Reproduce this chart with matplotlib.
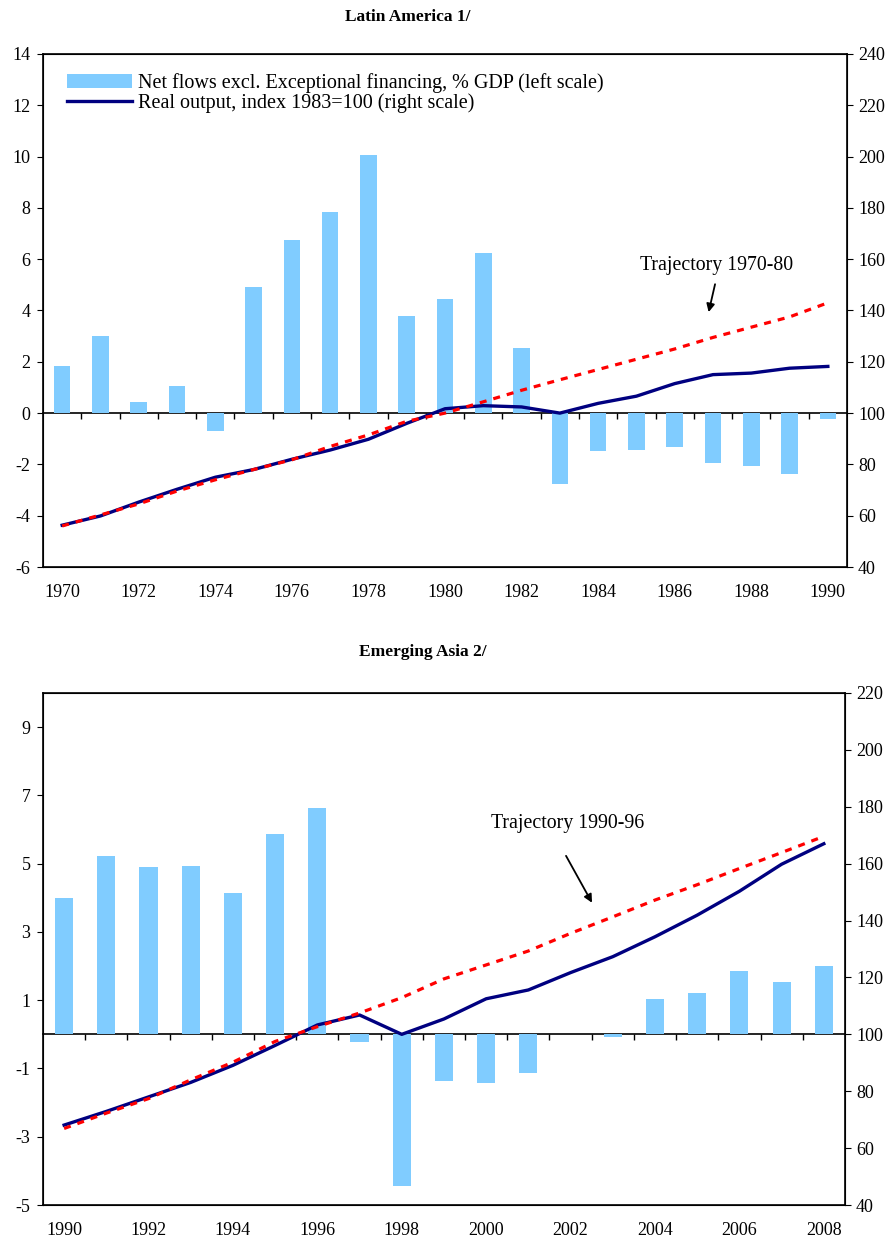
import numpy as np
import matplotlib.pyplot as plt

plt.rcParams['font.family'] = ['Liberation Serif', 'DejaVu Serif']
plt.rcParams['axes.unicode_minus'] = False

# Latin America 1/
la_years = list(range(1970, 1991))
la_flows = [1.85, 3.0, 0.43, 1.05, -0.7, 4.9, 6.75, 7.85, 10.05, 3.8, 4.45,
            6.25, 2.55, -2.78, -1.47, -1.43, -1.33, -1.94, -2.05, -2.36, -0.22]
la_output = [56.3, 59.9, 65.3, 70.3, 75.0, 78.0, 82.0, 85.6, 89.8, 96.0, 101.7,
             102.9, 102.4, 100.0, 103.8, 106.6, 111.5, 115.0, 115.6, 117.5, 118.2]
la_traj = [56.0, 60.3, 64.6, 69.6, 74.0, 78.0, 81.8, 87.0, 91.5, 96.8, 100.0,
           104.4, 108.9, 113.0, 117.0, 121.0, 125.0, 129.5, 133.5, 137.5, 143.0]

# Emerging Asia 2/
asia_years = list(range(1990, 2009))
asia_flows = [4.0, 5.22, 4.9, 4.93, 4.14, 5.86, 6.62, -0.21, -4.45, -1.36,
              -1.44, -1.13, 0.0, -0.09, 1.04, 1.21, 1.86, 1.54, 2.0]
asia_output = [68.1, 72.9, 78.0, 83.1, 89.1, 96.1, 103.3, 106.8, 100.0, 105.4,
               112.5, 115.6, 121.7, 127.3, 134.3, 141.9, 150.3, 159.8, 167.0]
asia_traj = [66.9, 72.3, 77.4, 84.0, 90.2, 97.5, 102.7, 107.5, 112.9, 119.5,
             124.4, 129.3, 135.5, 141.3, 147.2, 152.6, 158.3, 163.9, 169.6]

BAR = '#80CCFF'
NAVY = '#000080'
FS = 13


def panel(rect, years, flows, output, traj, ylim, yticks, rlim, rticks,
          note, note_xy, tail, head, legend=False):
    ax = fig.add_axes(rect)
    x = np.arange(len(years))
    ax.bar(x, flows, width=0.43, color=BAR, label='Net flows excl. Exceptional financing, % GDP (left scale)')
    ax.set_xlim(-0.5, len(years) - 0.5)
    ax.set_ylim(*ylim)
    ax.set_yticks(yticks)
    ax.set_xticks(x[::2])
    ax.set_xticklabels([str(y) for y in years[::2]])
    ax.tick_params(axis='x', length=0, pad=12, labelsize=FS)
    ax.tick_params(axis='y', direction='out', length=4, labelsize=FS, pad=5)
    for s in ax.spines.values():
        s.set_linewidth(1.2)

    # zero line with category separators
    zf = (0 - ylim[0]) / (ylim[1] - ylim[0])
    sec = ax.secondary_xaxis(zf)
    sec.set_xticks(x[1:] - 0.5)
    sec.tick_params(direction='out', length=4, labelbottom=False, width=1)
    sec.spines['bottom'].set_linewidth(1.2)

    ax2 = ax.twinx()
    ax2.set_ylim(*rlim)
    ax2.set_yticks(rticks)
    ax2.tick_params(axis='y', direction='out', length=4, labelsize=FS, pad=4)
    ln, = ax2.plot(x, output, color=NAVY, lw=2.4, zorder=3,
                   label='Real output, index 1983=100 (right scale)')
    ax2.plot(x, traj, color='red', lw=2.3, ls=(0, (2.2, 2.2)), zorder=4)
    ax2.text(note_xy[0], note_xy[1], note, ha='center', va='center', fontsize=14.3)
    ax2.annotate('', xy=head, xytext=tail,
                 arrowprops=dict(arrowstyle='-|>', color='black', lw=1.3, mutation_scale=12))

    if legend:
        h1, l1 = ax.get_legend_handles_labels()
        ax.legend(h1 + [ln], l1 + [ln.get_label()], loc='upper left',
                  bbox_to_anchor=(0.03, 0.962), frameon=False, fontsize=14.5,
                  handlelength=3.2, handletextpad=0.3, labelspacing=0.0,
                  borderpad=0, borderaxespad=0)
    return ax


fig = plt.figure(figsize=(8.96, 12.41), dpi=100)

panel([0.048, 0.5431, 0.8973, 0.4134], la_years, la_flows, la_output, la_traj,
      (-6, 14), np.arange(-6, 15, 2), (40, 240), np.arange(40, 241, 20),
      'Trajectory 1970-80', (17.1, 157.4), (17.07, 151.3), (16.87, 138.3),
      legend=True)
fig.text(408 / 896, 1 - 17 / 1241, 'Latin America 1/', ha='center', va='center',
         fontsize=12.5, fontweight='bold')

panel([0.048, 0.0290, 0.895, 0.4126], asia_years, asia_flows, asia_output, asia_traj,
      (-5, 10), np.arange(-5, 10, 2), (40, 220), np.arange(40, 221, 20),
      'Trajectory 1990-96', (11.94, 174.2), (11.86, 163.6), (12.54, 145.4))
fig.text(423 / 896, 1 - 652 / 1241, 'Emerging Asia 2/', ha='center', va='center',
         fontsize=12.5, fontweight='bold')

fig.savefig('out.png', dpi=100)
